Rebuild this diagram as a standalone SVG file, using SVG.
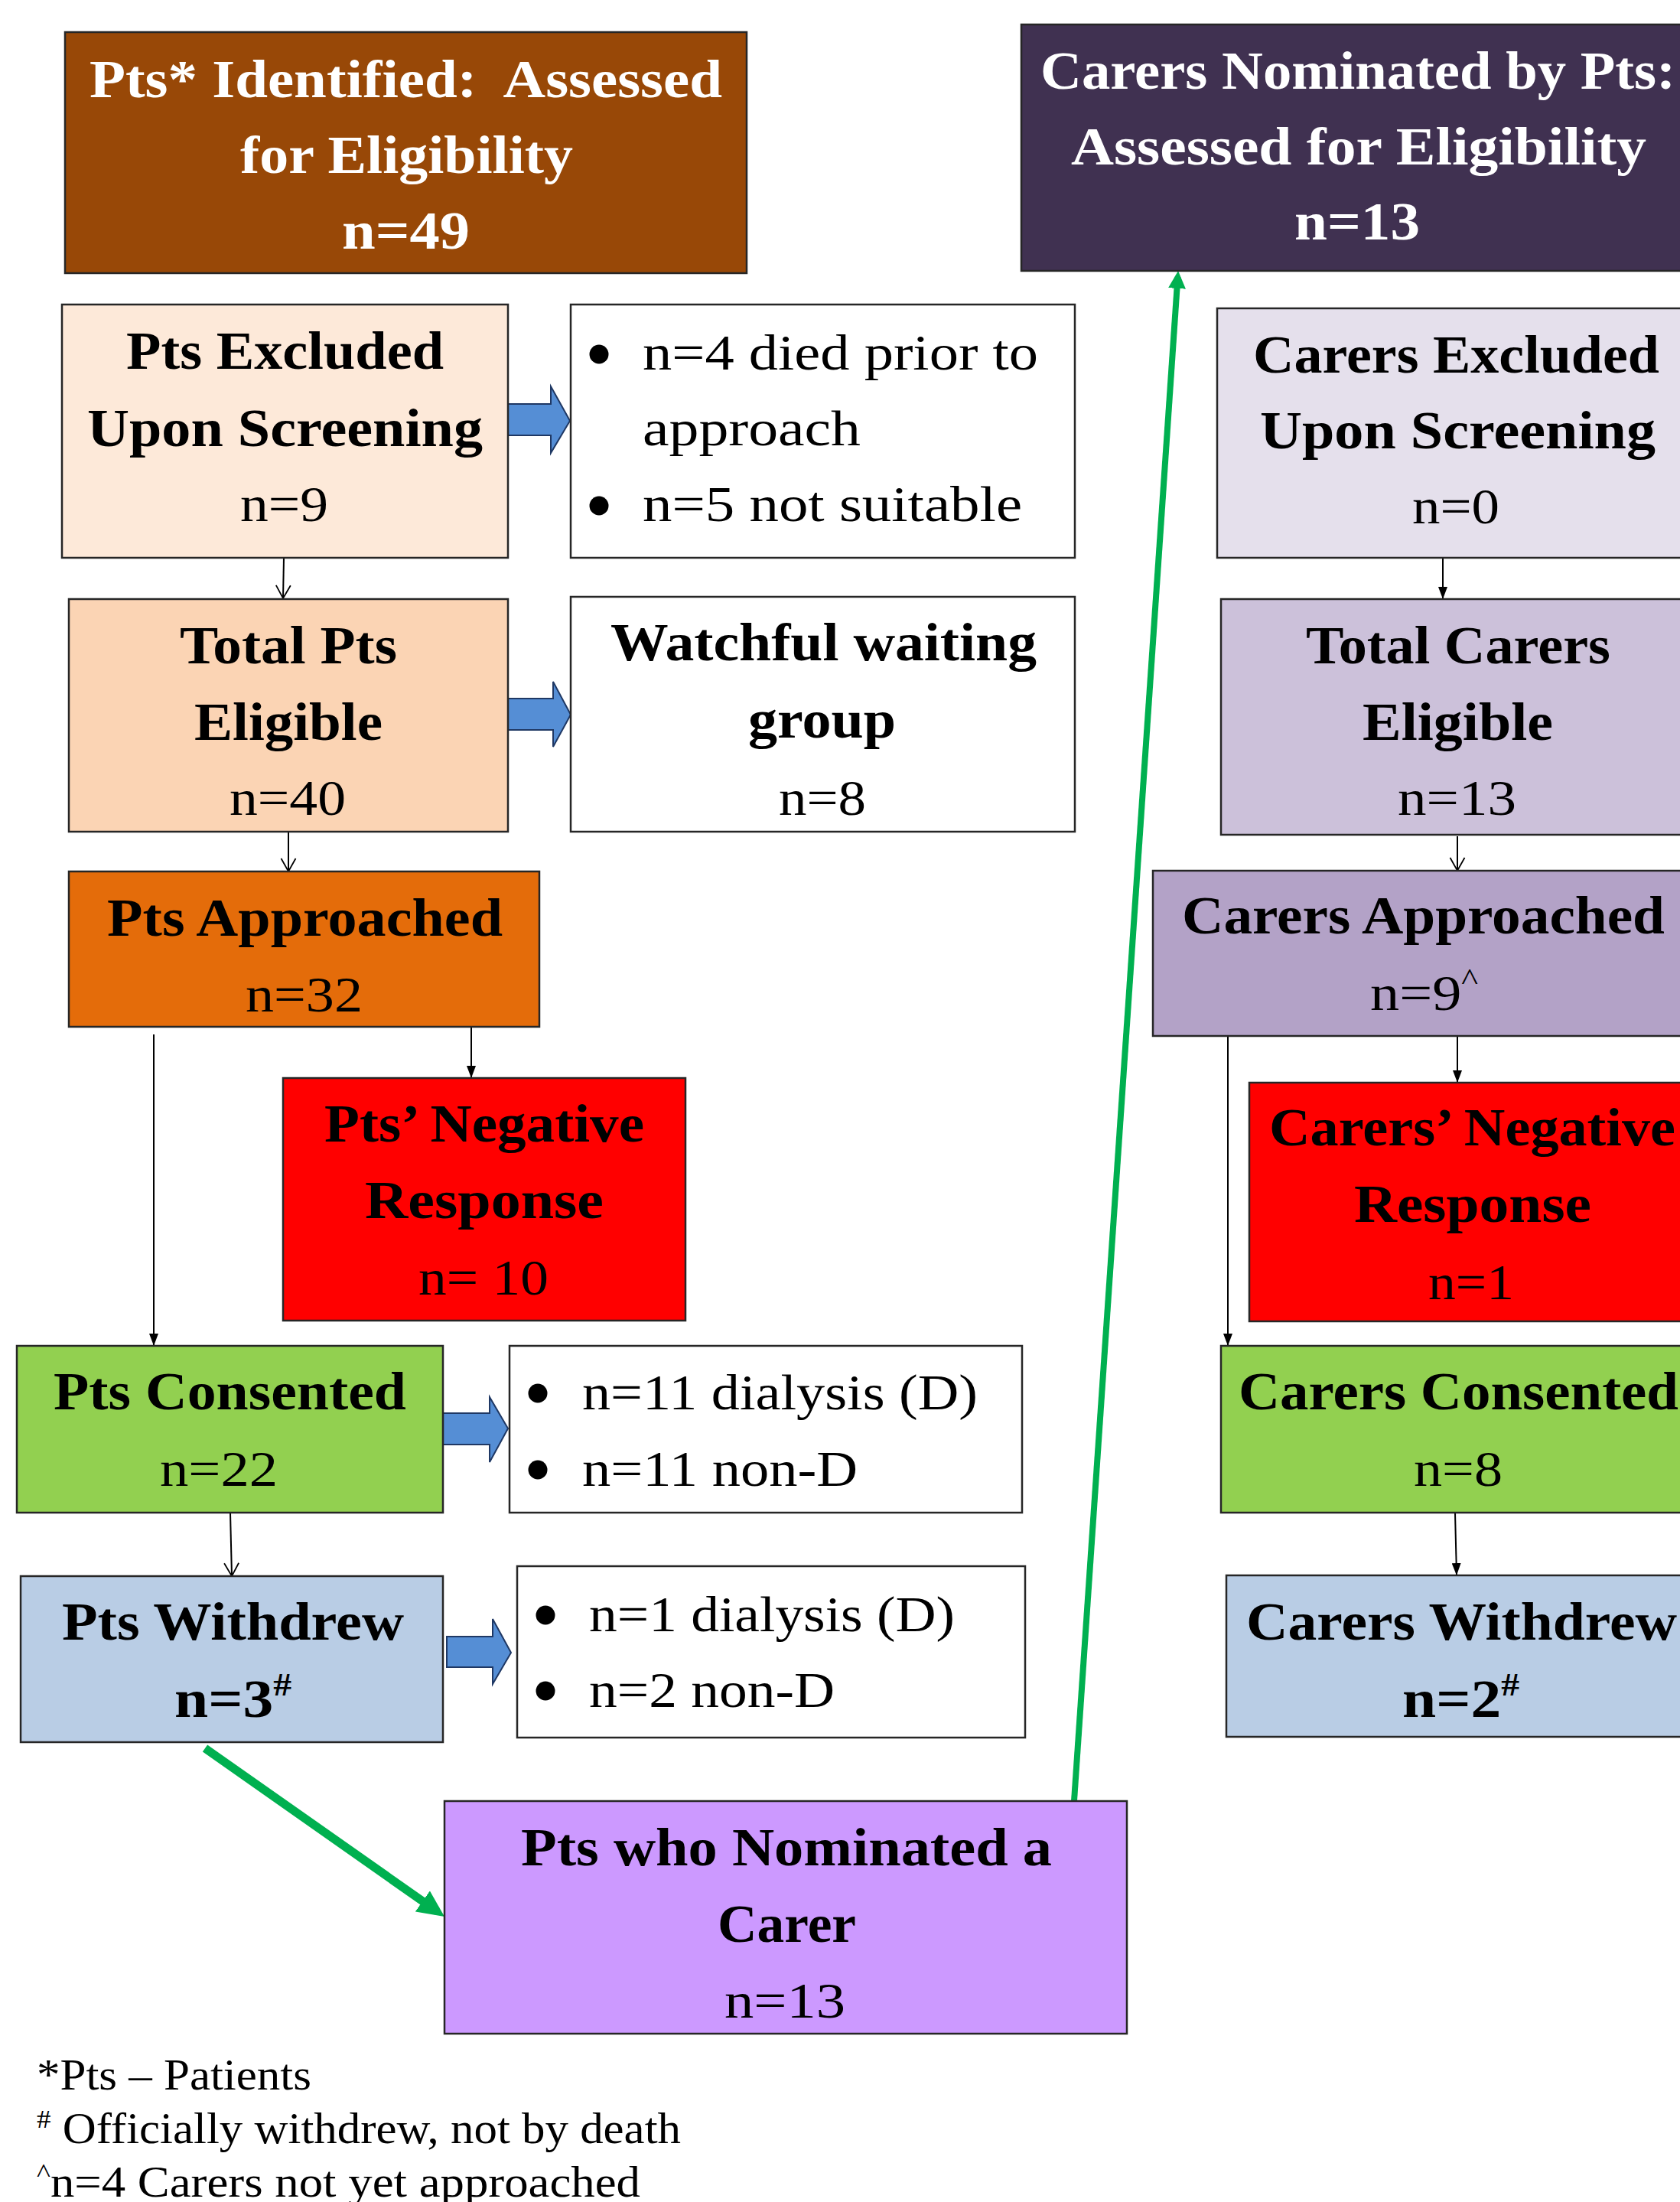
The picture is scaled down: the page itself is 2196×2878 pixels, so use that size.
<svg xmlns="http://www.w3.org/2000/svg" width="2196" height="2878" viewBox="0 0 2196 2878">
<style>
.box{stroke:#262626;stroke-width:2.5}
.t{font-family:"Liberation Serif","Times New Roman",serif;fill:#000}
.b{font-weight:bold;font-size:70px}
.r{font-weight:normal;font-size:66px}
.w{fill:#fff}
.fn{font-weight:normal;font-size:56px}
.con{stroke:#000;stroke-width:2;fill:none}
.blk{fill:#558ED5;stroke:#1F3864;stroke-width:2}
.grn{stroke:#00B050;fill:none}
.bul{fill:#000}
</style>
<defs>
<marker id="open" markerUnits="userSpaceOnUse" markerWidth="20" markerHeight="22" viewBox="-1 -1 20 22" refX="17" refY="9.5" orient="auto">
<path d="M0,0 L17,9.5 L0,19" fill="none" stroke="#000" stroke-width="1.8"/>
</marker>
<marker id="fill" markerUnits="userSpaceOnUse" markerWidth="16" markerHeight="12" viewBox="0 0 16 12" refX="16" refY="6" orient="auto">
<path d="M0,0 L16,6 L0,12 Z" fill="#000"/>
</marker>
<marker id="garr1" markerUnits="userSpaceOnUse" markerWidth="35" markerHeight="33" viewBox="0 0 35 33" refX="23" refY="16.5" orient="auto">
<path d="M0,0 L35,16.5 L0,33 Z" fill="#00B050"/>
</marker>
<marker id="garr2" markerUnits="userSpaceOnUse" markerWidth="23" markerHeight="23" viewBox="0 0 23 23" refX="15" refY="11.5" orient="auto">
<path d="M0,0 L23,11.5 L0,23 Z" fill="#00B050"/>
</marker>
</defs>

<g id="connectors">
<line class="con" x1="371" y1="729" x2="370" y2="782" marker-end="url(#open)"/>
<line class="con" x1="377" y1="1087" x2="377" y2="1139" marker-end="url(#open)"/>
<line class="con" x1="616" y1="1342" x2="616" y2="1409" marker-end="url(#fill)"/>
<line class="con" x1="201" y1="1352" x2="201" y2="1759" marker-end="url(#fill)"/>
<line class="con" x1="301" y1="1977" x2="303" y2="2060" marker-end="url(#open)"/>
<line class="con" x1="1886" y1="729" x2="1886" y2="783" marker-end="url(#fill)"/>
<line class="con" x1="1905" y1="1093" x2="1905" y2="1138" marker-end="url(#open)"/>
<line class="con" x1="1905" y1="1354" x2="1905" y2="1415" marker-end="url(#fill)"/>
<line class="con" x1="1605" y1="1354" x2="1605" y2="1759" marker-end="url(#fill)"/>
<line class="con" x1="1902" y1="1977" x2="1904" y2="2059" marker-end="url(#fill)"/>
<polygon class="blk" points="664,528 720,528 720,505 745,550 720,592 720,569 664,569"/>
<polygon class="blk" points="664,913 723,913 723,891 746,934 723,976 723,954 664,954"/>
<polygon class="blk" points="579,1847 640,1847 640,1826 664,1867 640,1911 640,1888 579,1888"/>
<polygon class="blk" points="584,2139 644,2139 644,2116 668,2160 644,2201 644,2179 584,2179"/>
<line class="grn" stroke-width="11" x1="268" y1="2285" x2="571.2" y2="2498.1" marker-end="url(#garr1)"/>
<line class="grn" stroke-width="8" x1="1404" y1="2354" x2="1539.5" y2="362" marker-end="url(#garr2)"/>
</g>

<g id="pts-identified">
<rect class="box" x="85" y="42" width="891" height="315" fill="#984807"/>
<text class="t b w" x="117" y="127" textLength="827" lengthAdjust="spacingAndGlyphs" xml:space="preserve">Pts* Identified:  Assessed</text>
<text class="t b w" x="314" y="226" textLength="435" lengthAdjust="spacingAndGlyphs">for Eligibility</text>
<text class="t b w" x="447" y="325" textLength="167" lengthAdjust="spacingAndGlyphs">n=49</text>
</g>

<g id="carers-nominated">
<rect class="box" x="1335" y="32" width="880" height="322" fill="#403151"/>
<text class="t b w" x="1360" y="116" textLength="830" lengthAdjust="spacingAndGlyphs">Carers Nominated by Pts:</text>
<text class="t b w" x="1400" y="215" textLength="752" lengthAdjust="spacingAndGlyphs">Assessed for Eligibility</text>
<text class="t b w" x="1692" y="313" textLength="164" lengthAdjust="spacingAndGlyphs">n=13</text>
</g>

<g id="pts-excluded">
<rect class="box" x="81" y="398" width="583" height="331" fill="#FDE9D9"/>
<text class="t b" x="165" y="482" textLength="415" lengthAdjust="spacingAndGlyphs">Pts Excluded</text>
<text class="t b" x="114" y="583" textLength="517" lengthAdjust="spacingAndGlyphs">Upon Screening</text>
<text class="t r" x="314" y="681" textLength="115" lengthAdjust="spacingAndGlyphs">n=9</text>
</g>

<g id="pts-excluded-reasons">
<rect class="box" x="746" y="398" width="659" height="331" fill="#fff"/>
<circle class="bul" cx="783" cy="463" r="12.5"/>
<circle class="bul" cx="783" cy="661" r="12.5"/>
<text class="t r" x="840" y="483" textLength="517" lengthAdjust="spacingAndGlyphs">n=4 died prior to</text>
<text class="t r" x="840" y="582" textLength="285" lengthAdjust="spacingAndGlyphs">approach</text>
<text class="t r" x="840" y="681" textLength="496" lengthAdjust="spacingAndGlyphs">n=5 not suitable</text>
</g>

<g id="carers-excluded">
<rect class="box" x="1591" y="403" width="625" height="326" fill="#E5E0EC"/>
<text class="t b" x="1638" y="487" textLength="531" lengthAdjust="spacingAndGlyphs">Carers Excluded</text>
<text class="t b" x="1647" y="586" textLength="517" lengthAdjust="spacingAndGlyphs">Upon Screening</text>
<text class="t r" x="1846" y="684" textLength="114" lengthAdjust="spacingAndGlyphs">n=0</text>
</g>

<g id="total-pts-eligible">
<rect class="box" x="90" y="783" width="574" height="304" fill="#FBD4B4"/>
<text class="t b" x="235" y="867" textLength="284" lengthAdjust="spacingAndGlyphs">Total Pts</text>
<text class="t b" x="254" y="967" textLength="246" lengthAdjust="spacingAndGlyphs">Eligible</text>
<text class="t r" x="300" y="1065" textLength="152" lengthAdjust="spacingAndGlyphs">n=40</text>
</g>

<g id="watchful-waiting">
<rect class="box" x="746" y="780" width="659" height="307" fill="#fff"/>
<text class="t b" x="798" y="863" textLength="557" lengthAdjust="spacingAndGlyphs">Watchful waiting</text>
<text class="t b" x="978" y="964" textLength="193" lengthAdjust="spacingAndGlyphs">group</text>
<text class="t r" x="1018" y="1065" textLength="114" lengthAdjust="spacingAndGlyphs">n=8</text>
</g>

<g id="total-carers-eligible">
<rect class="box" x="1596" y="783" width="620" height="308" fill="#CCC1DA"/>
<text class="t b" x="1707" y="867" textLength="398" lengthAdjust="spacingAndGlyphs">Total Carers</text>
<text class="t b" x="1781" y="967" textLength="249" lengthAdjust="spacingAndGlyphs">Eligible</text>
<text class="t r" x="1827" y="1065" textLength="155" lengthAdjust="spacingAndGlyphs">n=13</text>
</g>

<g id="pts-approached">
<rect class="box" x="90" y="1139" width="615" height="203" fill="#E46C0A"/>
<text class="t b" x="140" y="1223" textLength="517" lengthAdjust="spacingAndGlyphs">Pts Approached</text>
<text class="t r" x="321" y="1322" textLength="153" lengthAdjust="spacingAndGlyphs">n=32</text>
</g>

<g id="carers-approached">
<rect class="box" x="1507" y="1138" width="709" height="216" fill="#B3A2C7"/>
<text class="t b" x="1545" y="1220" textLength="631" lengthAdjust="spacingAndGlyphs">Carers Approached</text>
<text class="t r" x="1791" y="1320" textLength="141" lengthAdjust="spacingAndGlyphs">n=9<tspan font-size="40" dy="-26">^</tspan></text>
</g>

<g id="pts-negative">
<rect class="box" x="370" y="1409" width="526" height="317" fill="#FF0000"/>
<text class="t b" x="424" y="1492" textLength="418" lengthAdjust="spacingAndGlyphs">Pts’ Negative</text>
<text class="t b" x="477" y="1592" textLength="312" lengthAdjust="spacingAndGlyphs">Response</text>
<text class="t r" x="547" y="1692" textLength="170" lengthAdjust="spacingAndGlyphs" xml:space="preserve">n= 10</text>
</g>

<g id="carers-negative">
<rect class="box" x="1633" y="1415" width="583" height="312" fill="#FF0000"/>
<text class="t b" x="1659" y="1497" textLength="531" lengthAdjust="spacingAndGlyphs">Carers’ Negative</text>
<text class="t b" x="1770" y="1597" textLength="310" lengthAdjust="spacingAndGlyphs">Response</text>
<text class="t r" x="1867" y="1698" textLength="112" lengthAdjust="spacingAndGlyphs">n=1</text>
</g>

<g id="pts-consented">
<rect class="box" x="22" y="1759" width="557" height="218" fill="#92D050"/>
<text class="t b" x="70" y="1842" textLength="461" lengthAdjust="spacingAndGlyphs">Pts Consented</text>
<text class="t r" x="209" y="1942" textLength="154" lengthAdjust="spacingAndGlyphs">n=22</text>
</g>

<g id="pts-consented-breakdown">
<rect class="box" x="666" y="1759" width="670" height="218" fill="#fff"/>
<circle class="bul" cx="703" cy="1821" r="12.5"/>
<circle class="bul" cx="703" cy="1921" r="12.5"/>
<text class="t r" x="761" y="1842" textLength="517" lengthAdjust="spacingAndGlyphs">n=11 dialysis (D)</text>
<text class="t r" x="761" y="1942" textLength="360" lengthAdjust="spacingAndGlyphs">n=11 non-D</text>
</g>

<g id="carers-consented">
<rect class="box" x="1596" y="1759" width="620" height="218" fill="#92D050"/>
<text class="t b" x="1619" y="1842" textLength="575" lengthAdjust="spacingAndGlyphs">Carers Consented</text>
<text class="t r" x="1848" y="1942" textLength="116" lengthAdjust="spacingAndGlyphs">n=8</text>
</g>

<g id="pts-withdrew">
<rect class="box" x="27" y="2060" width="552" height="217" fill="#B9CDE5"/>
<text class="t b" x="81" y="2143" textLength="447" lengthAdjust="spacingAndGlyphs">Pts Withdrew</text>
<text class="t b" x="228" y="2244" textLength="153" lengthAdjust="spacingAndGlyphs">n=3<tspan font-size="42" dy="-28">#</tspan></text>
</g>

<g id="pts-withdrew-breakdown">
<rect class="box" x="676" y="2047" width="664" height="224" fill="#fff"/>
<circle class="bul" cx="713" cy="2111" r="12.5"/>
<circle class="bul" cx="713" cy="2210" r="12.5"/>
<text class="t r" x="770" y="2132" textLength="478" lengthAdjust="spacingAndGlyphs">n=1 dialysis (D)</text>
<text class="t r" x="770" y="2231" textLength="321" lengthAdjust="spacingAndGlyphs">n=2 non-D</text>
</g>

<g id="carers-withdrew">
<rect class="box" x="1603" y="2059" width="613" height="211" fill="#B9CDE5"/>
<text class="t b" x="1629" y="2143" textLength="563" lengthAdjust="spacingAndGlyphs">Carers Withdrew</text>
<text class="t b" x="1833" y="2244" textLength="153" lengthAdjust="spacingAndGlyphs">n=2<tspan font-size="42" dy="-28">#</tspan></text>
</g>

<g id="pts-nominated-carer">
<rect class="box" x="581" y="2354" width="892" height="304" fill="#CC99FF"/>
<text class="t b" x="681" y="2438" textLength="694" lengthAdjust="spacingAndGlyphs">Pts who Nominated a</text>
<text class="t b" x="938" y="2538" textLength="181" lengthAdjust="spacingAndGlyphs">Carer</text>
<text class="t r" x="947" y="2637" textLength="158" lengthAdjust="spacingAndGlyphs">n=13</text>
</g>

<g id="footnotes">
<text class="t fn" x="48" y="2731" textLength="359" lengthAdjust="spacingAndGlyphs">*Pts – Patients</text>
<text class="t fn" x="48" y="2801" textLength="842" lengthAdjust="spacingAndGlyphs"><tspan font-size="34" dy="-20">#</tspan><tspan dy="20"> Officially withdrew, not by death</tspan></text>
<text class="t fn" x="48" y="2871" textLength="789" lengthAdjust="spacingAndGlyphs"><tspan font-size="34" dy="-20">^</tspan><tspan dy="20">n=4 Carers not yet approached</tspan></text>
</g>
</svg>
